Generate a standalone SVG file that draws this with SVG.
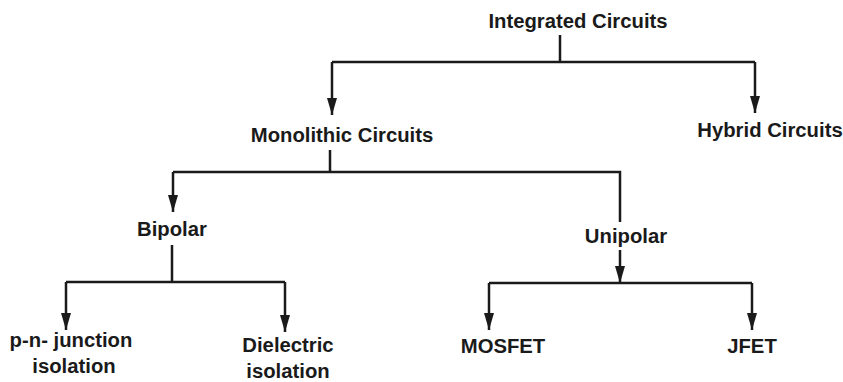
<svg xmlns="http://www.w3.org/2000/svg" width="843" height="382" viewBox="0 0 843 382">
<style>
text{font-family:"Liberation Sans",Arial,sans-serif;font-weight:bold;font-size:20.3px;fill:#1a1a1a;text-anchor:middle}
.c{fill:none;stroke:#1a1a1a;stroke-width:2.5}
</style>
<defs>
<marker id="ah" markerUnits="userSpaceOnUse" markerWidth="18" markerHeight="12" refX="17" refY="6" orient="auto" viewBox="0 0 18 12">
<path d="M0,1 L17,6 L0,11 Z" fill="#1a1a1a"/>
</marker>
</defs>
<rect width="843" height="382" fill="#fff"/>
<g id="connectors">
<path class="c" d="M560,35 V62 M332,62 H755"/>
<path class="c" d="M332,62 V115" marker-end="url(#ah)"/>
<path class="c" d="M755,62 V113" marker-end="url(#ah)"/>
<path class="c" d="M330,150 V172 M173,172 H620 V222"/>
<path class="c" d="M173,172 V212" marker-end="url(#ah)"/>
<path class="c" d="M172,245 V282 M66,282 H285"/>
<path class="c" d="M66,282 V330" marker-end="url(#ah)"/>
<path class="c" d="M285,282 V332" marker-end="url(#ah)"/>
<path class="c" d="M620,250 V283" marker-end="url(#ah)"/>
<path class="c" d="M489,283 H752"/>
<path class="c" d="M489,283 V330" marker-end="url(#ah)"/>
<path class="c" d="M752,283 V330" marker-end="url(#ah)"/>
</g>
<g id="integrated"><text x="578" y="28">Integrated Circuits</text></g>
<g id="hybrid"><text x="770" y="137">Hybrid Circuits</text></g>
<g id="monolithic"><text x="342" y="142">Monolithic Circuits</text></g>
<g id="bipolar"><text x="172" y="236">Bipolar</text></g>
<g id="unipolar"><text x="626" y="243">Unipolar</text></g>
<g id="pn"><text x="71" y="347">p-n- junction</text><text x="74" y="373">isolation</text></g>
<g id="dielectric"><text x="288" y="352">Dielectric</text><text x="288" y="378">isolation</text></g>
<g id="mosfet"><text x="503" y="353">MOSFET</text></g>
<g id="jfet"><text x="752" y="353">JFET</text></g>
</svg>
